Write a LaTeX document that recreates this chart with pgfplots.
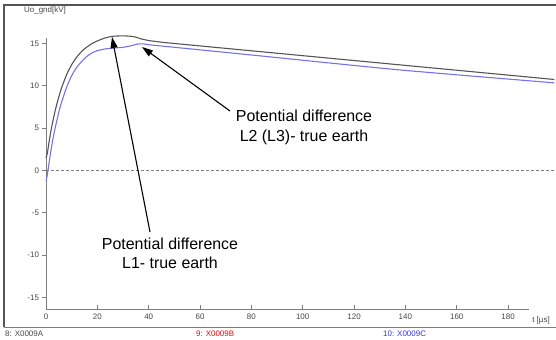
\documentclass[border=0pt]{standalone}
\usepackage{fontspec}
\setmainfont{Liberation Sans}
\usepackage{pgfplots}
\pgfplotsset{compat=1.18}
\usetikzlibrary{arrows.meta}
\definecolor{blk}{RGB}{85,85,85}
\definecolor{blu}{RGB}{115,115,235}
\definecolor{axgray}{RGB}{125,125,125}
\definecolor{lblgray}{RGB}{70,70,70}
\begin{document}
\begin{tikzpicture}[x=1bp,y=1bp]
\path[use as bounding box] (0,0) rectangle (556,339);
\draw[blk, line width=1.6bp] (556,334) -- (4,334) -- (4,12);
\draw[axgray, line width=0.8bp] (4,12) -- (556,12);
\begin{axis}[
  at={(46bp,30bp)}, anchor=south west,
  scale only axis,
  width=482.6bp, height=270.6bp,
  xmin=0, xmax=188, ymin=-16.35, ymax=15.6,
  axis x line*=bottom, axis y line*=left,
  axis line style={axgray, line width=0.9bp, -},
  xtick={0,20,...,180}, ytick={-15,-10,...,15},
  xtick align=inside, ytick align=outside,
  major tick length=4bp,
  tick style={axgray, line width=0.8bp},
  /pgf/number format/assume math mode=true,
  tick label style={font=\fontsize{8}{9.5}\selectfont, text=lblgray},
  x tick label style={yshift=-1.5bp},
  y tick label style={xshift=0.5bp},
  clip=false,
]
\addplot[axgray, line width=0.7bp, dash pattern=on 2.5bp off 2.5bp] coordinates {(0,0) (198,0)};
\addplot[blu, line width=1.1bp, smooth, tension=0.4] coordinates {
(0,-1.2) (0.3,-0.9) (1,0.5) (2,2.5) (3,4.2) (4,5.6) (5,6.9) (6,8.0) (8,9.8) (10,11.2)
(12,12.2) (14,12.9) (16,13.5) (18,13.9) (20,14.15) (23,14.35) (26,14.45) (30,14.55)
(32,14.65) (34,14.8) (36,14.95) (38,14.95) (40,14.85) (45,14.7) (50,14.55) (83,13.55)
(137,11.9) (198,10.35)};
\addplot[blk, line width=1.1bp, smooth, tension=0.4] coordinates {
(0,1.5) (0.5,2.0) (1,3.0) (2,4.8) (3,6.3) (4,7.6) (5,8.7) (6,9.7) (8,11.3) (10,12.5)
(12,13.4) (14,14.1) (16,14.6) (18,15.0) (20,15.3) (23,15.65) (26,15.85) (30,15.9)
(33,15.85) (35,15.75) (37,15.55) (40,15.35) (45,15.15) (50,15.0) (83,14.05)
(137,12.5) (198,10.75)};
\end{axis}
\node[font=\fontsize{8}{9.5}\selectfont, text=lblgray] at (45,329) {Uo\_gnd[kV]};
\node[font=\fontsize{8}{9.5}\selectfont, text=lblgray] at (541,19) {t [µs]};
\node[font=\fontsize{8}{9.5}\selectfont, text=lblgray, anchor=west, inner sep=0pt] at (5,5.5) {8: X0009A};
\node[font=\fontsize{8}{9.5}\selectfont, text=red, anchor=west, inner sep=0pt] at (196,5.5) {9: X0009B};
\node[font=\fontsize{8}{9.5}\selectfont, text=blue!80!white, anchor=west, inner sep=0pt] at (383,5.5) {10: X0009C};
\draw[line width=1.1bp, -{Triangle[length=11bp,width=7bp]}] (150,107) -- (112,302);
\draw[line width=1.1bp, -{Triangle[length=11bp,width=7bp]}] (230,228) -- (142,292);
\node[align=center, font=\fontsize{16}{19.5}\selectfont] at (170,85.5) {Potential difference\\L1- true earth};
\node[align=center, font=\fontsize{16}{20.5}\selectfont] at (304,211.5) {Potential difference\\L2 (L3)- true earth};
\end{tikzpicture}
\end{document}
